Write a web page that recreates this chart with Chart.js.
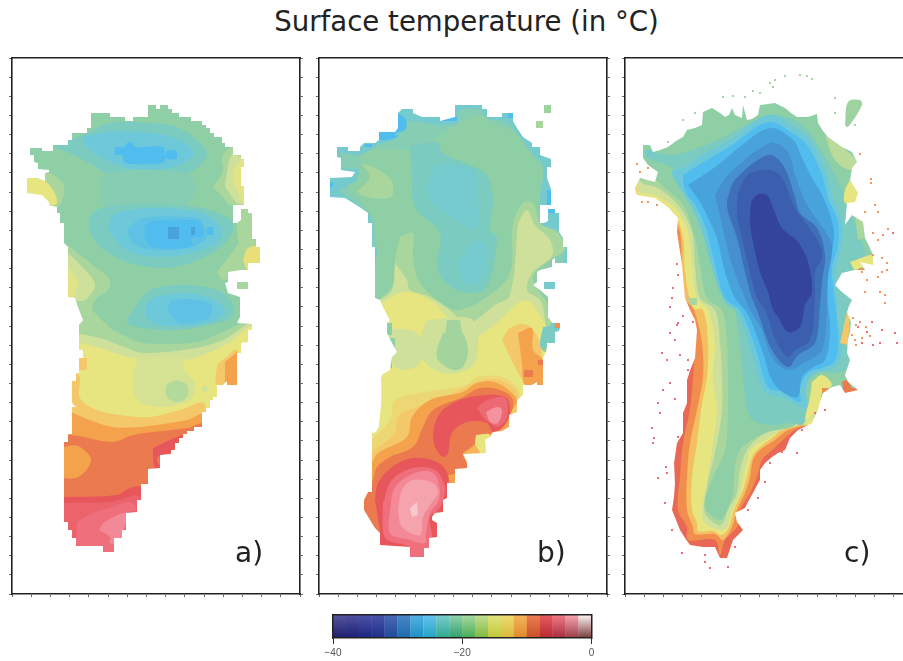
<!DOCTYPE html>
<html>
<head>
<meta charset="utf-8">
<script src="https://cdn.jsdelivr.net/npm/chart.js@4"></script>
<style>
html, body { margin: 0; background: #fff; overflow: hidden; width: 903px; height: 661px; }
canvas { position: absolute; filter: blur(0.45px); }
.txt { position: absolute; font-family: "DejaVu Sans"; color: #222; white-space: nowrap; }
</style>
</head>
<body>
<div class="txt" style="left:0;width:933px;text-align:center;top:5px;font-size:27.6px;">Surface temperature (in °C)</div>
<canvas id="panelA" width="296" height="542" style="left:8px;top:56px"></canvas>
<canvas id="panelB" width="296" height="542" style="left:315px;top:56px"></canvas>
<canvas id="panelC" width="296" height="542" style="left:621px;top:56px"></canvas>
<div class="txt" style="left:235px;top:536px;font-size:28px;">a)</div>
<div class="txt" style="left:537px;top:536px;font-size:28px;">b)</div>
<div class="txt" style="left:844px;top:536px;font-size:28px;">c)</div>
<canvas id="colorbar" width="300" height="56" style="left:313px;top:605px"></canvas>
<script>
const paletteTemps = [-40,-38,-36,-34,-32,-30,-28,-26,-24,-22,-20,-18,-16,-14,-12,-10,-8,-6,-4,-2,0];
const paletteColors = ['#35449b','#35449b','#3c5eae','#3f6fb9','#4790cf','#47a3d9','#51bcee','#6dc8da','#7ccbc0','#8fcfa5','#a9d69c','#cfe09a','#e6e57f','#f4c868','#f5a24c','#ec7a4f','#e6565a','#ef6f7c','#f4929e','#f6b6be','#ffffff'];

// colour bar
const barTemps = [-39,-37,-35,-33,-31,-29,-27,-25,-23,-21,-19,-17,-15,-13,-11,-9,-7,-5,-3,-1];
const barTop = ['#55559f','#50529f','#4d52a5','#4754a8','#4a68b3','#4a86c6','#55b0e4','#66c4ee','#7acdd0','#90d3b0','#a8d8a0','#c4de90','#e2e47c','#eedc72','#f6b45c','#ee7e50','#ea5a60','#f27a88','#f7a5b0','#fff4f4'];
const barBottom = ['#1f1f6e','#1c1f75','#1c2580','#1e2f88','#1f4a9c','#1c6cad','#1c90c4','#22a3c4','#2ea78f','#2fa06c','#46ac52','#7cb83f','#c0c63a','#d8b83a','#dc8a2a','#c8502a','#b52a30','#a52c3c','#9c3c48','#7a3c3c'];
const barTicks = [-40,-20,0];

// map positions are x,y pairs on each panel's axes; bands are [temperature, shape], painted in order
const outlineA = [30,148,42,148,42,151,53,151,53,145,68,145,68,140,72,140,72,133,87,133,87,128,91,128,91,113,110,113,110,117,125,117,125,121,133,121,133,117,148,117,148,105,156,105,156,109,160,109,160,105,168,105,168,109,172,109,172,113,179,113,179,117,191,117,191,121,202,121,202,125,206,125,206,128,210,128,210,133,214,133,214,137,222,137,222,143,225,143,225,147,233,147,233,155,241,155,241,159,244,159,244,167,241,167,241,186,244,186,244,205,233,205,233,223,237,223,241,220,241,209,248,209,248,213,252,213,252,239,256,239,256,247,260,247,260,263,248,263,248,270,241,270,228,272,228,282,225,283,228,293,240,297,240,317,237,323,252,324,252,330,248,330,248,342,241,343,241,353,237,353,237,385,227,385,227,381,223,385,217,385,217,397,213,397,213,400,210,400,210,408,206,408,206,412,202,412,202,427,194,427,194,431,187,431,187,434,183,434,183,438,179,438,179,443,175,443,175,450,171,450,171,454,160,455,160,468,148,469,148,484,141,484,141,500,137,500,137,512,126,513,126,530,122,530,122,538,114,538,114,552,103,552,103,546,76,546,76,538,72,538,72,530,68,530,68,522,64,522,64,442,68,442,68,434,72,434,72,407,76,407,72,403,72,381,76,381,76,373,79,373,79,358,83,358,83,350,79,350,79,335,79,325,83,320,78,307,75,298,68,297,68,247,64,243,64,223,60,223,60,213,57,213,57,207,49,205,49,202,42,195,27,193,27,178,37,178,45,181,45,173,49,172,49,170,38,169,38,163,34,162,34,155,30,155];
const bandsA = [
  [-22,[12,58,300,58,300,345,12,345]],
  [-24,[53,147,87,133,110,123,150,123,177,127,197,140,207,153,197,168,170,178,137,182,110,175,87,162,67,152]],
  [-26,[83,137,110,132,150,133,180,140,193,152,183,163,157,170,127,168,103,158,85,145]],
  [-28,[115,147,125,147,127,143,133,143,135,147,163,147,165,155,167,151,176,151,176,159,165,159,164,163,125,163,122,155,115,155]],
  [-23,[100,190,107,173,187,173,195,190,183,207,107,207]],
  [-24,[88,227,93,212,120,205,167,205,210,210,232,222,232,233,217,250,190,263,160,268,127,262,100,247]],
  [-26,[108,230,113,215,140,209,177,209,207,215,222,230,217,243,190,253,157,257,127,250]],
  [-27,[127,230,143,218,197,218,203,223,207,237,190,247,153,250,133,243]],
  [-28,[145,226,153,221,198,221,203,227,203,237,192,238,192,247,153,247,145,238]],
  [-30,[168,227,179,227,179,239,168,239]],
  [-30,[191,227,195,227,195,235,191,235]],
  [-28,[207,227,213,227,213,235,207,235]],
  [-24,[138,303,150,290,183,285,217,290,232,303,232,317,210,325,177,330,143,328,127,322]],
  [-26,[145,307,153,298,183,293,210,298,225,310,217,320,190,326,160,325,147,318]],
  [-27,[167,310,173,300,210,303,210,317,180,323]],
  [-20,[213,187,223,170,222,157,233,147,244,160,244,205,230,205,223,197]],
  [-18,[225,187,227,172,232,155,243,160,243,203,237,203]],
  [-16.5,[233,183,235,167,244,160,244,205,240,197]],
  [-20,[27,178,45,172,63,183,63,197,58,207,50,205,27,193]],
  [-16,[25,177,43,180,53,190,57,203,49,205,25,195]],
  [-20,[68,245,90,263,110,280,108,290,95,300,93,310,110,330,79,330,78,307,68,297]],
  [-18,[68,253,85,270,95,285,85,300,75,300,68,297]],
  [-16.5,[68,267,78,280,75,297,68,297]],
  [-20,[217,272,232,253,243,240,255,240,260,263,248,270,223,280]],
  [-20,[237,223,241,209,252,213,252,239,240,245]],
  [-15.5,[243,260,248,248,260,247,260,263,248,270]],
  [-20,[70,320,100,324,123,335,143,343,197,342,227,330,255,322,255,594,70,594]],
  [-18,[70,332,100,338,127,348,143,353,197,348,223,340,255,325,255,594,70,594]],
  [-16,[70,340,100,348,133,358,185,360,225,345,255,328,255,594,70,594]],
  [-17.5,[137,357,187,357,183,367,195,383,190,400,160,407,137,400,133,383]],
  [-19.5,[177,380,187,385,187,397,177,402,167,397,167,385]],
  [-18,[205,385,209,389,205,393,201,389]],
  [-14,[79,358,87,358,87,370,79,370]],
  [-14,[217,365,225,358,237,350,237,385,217,385]],
  [-12,[225,362,237,352,237,385,225,385]],
  [-14,[62,375,79,375,80,398,97,410,120,415,150,417,180,410,205,405,205,594,62,594]],
  [-12,[62,408,90,420,113,427,140,427,187,420,205,415,205,594,62,594]],
  [-10,[60,442,68,435,113,442,133,435,187,428,205,425,205,594,60,594]],
  [-12,[60,448,78,446,91,460,78,477,60,475]],
  [-8,[153,448,183,435,178,443,170,453,157,458,160,468,155,468,153,457]],
  [-8,[60,497,117,495,130,488,141,488,141,594,60,594]],
  [-7,[60,503,110,502,140,498,140,594,60,594]],
  [-6,[77,522,95,512,110,508,130,502,137,510,127,513,122,540,114,553,103,553,100,547,77,545,77,530]],
  [-4.5,[99,530,105,522,127,513,123,533,120,543,110,543,110,537]]
];
const islandsA = [
  [-20,[237,282,248,282,248,289,237,289]]
];

const outlineB = [337,147,348,147,348,151,360,151,360,147,364,143,375,143,379,140,379,132,395,132,398,128,398,113,402,109,413,109,413,113,422,117,440,117,440,121,455,117,455,105,482,105,482,109,487,109,487,117,502,117,502,113,513,113,513,121,517,128,523,137,532,143,532,147,540,147,540,155,551,159,551,167,547,167,547,178,551,189,551,205,540,205,540,223,544,223,548,221,548,209,555,209,555,213,559,213,559,232,563,238,563,247,567,247,567,263,555,263,555,258,552,260,552,267,540,270,537,272,537,282,533,285,540,290,548,297,548,317,552,323,560,323,560,328,559,331,555,332,555,343,547,343,547,350,543,358,543,385,537,385,537,382,532,385,523,385,523,395,517,400,517,412,509,415,509,427,502,431,493,432,490,437,485,440,486,453,463,454,467,462,467,468,455,469,455,483,447,483,447,498,443,500,443,512,435,513,432,517,432,520,437,523,437,537,429,538,429,548,424,548,424,557,410,557,410,547,380,545,380,533,375,528,370,520,367,515,364,510,364,500,368,492,372,492,372,432,375,432,379,427,380,407,380,380,383,374,390,370,392,357,397,352,392,343,387,333,387,323,390,320,388,317,383,307,380,300,375,298,375,247,372,247,372,223,368,223,368,213,361,208,353,203,345,198,330,197,330,178,352,177,355,172,341,170,341,158,337,157];
const bandsB = [
  [-25,[319,58,607,58,607,345,319,345]],
  [-23,[340,152,362,155,378,145,398,137,405,122,420,122,440,125,457,123,460,110,480,110,487,118,507,122,515,130,528,148,537,158,543,165,540,190,540,223,544,230,558,230,563,263,550,267,533,277,533,287,547,303,547,330,377,330,377,247,373,247,373,223,367,212,347,197,340,190,357,185,360,170,343,168]],
  [-22,[360,155,378,148,407,150,433,140,460,123,480,115,497,125,515,133,533,157,543,170,540,197,540,223,547,303,377,303,377,247,370,213,357,197,347,187,357,180]],
  [-24,[410,147,437,142,443,153,477,168,488,177,493,200,490,230,497,237,487,287,470,293,448,285,437,267,440,233,415,207,412,173]],
  [-25,[435,165,460,165,475,173,478,197,477,227,463,225,437,207,427,193,430,177]],
  [-25,[470,243,483,242,487,257,483,277,475,285,463,280,457,265,465,253]],
  [-20,[357,192,370,177,363,165,375,168,391,180,391,197,367,197]],
  [-28,[398,113,406,120,405,130,395,133,397,137,380,140,379,132,395,128]],
  [-28,[365,144,372,144,372,147,365,147]],
  [-28,[440,117,457,117,457,121,440,121]],
  [-28,[508,113,513,113,513,118,508,118]],
  [-28,[330,182,333,182,333,187,330,187]],
  [-28,[547,190,551,190,551,205,547,205]],
  [-28,[548,209,555,209,555,213,548,213]],
  [-20,[400,237,413,233,413,257,420,283,447,307,460,310,487,297,510,273,513,223,523,203,533,203,540,223,558,233,565,250,550,260,533,277,540,293,547,303,547,330,377,330,377,303,392,287,395,260]],
  [-18,[518,223,527,210,535,225,550,240,552,256,533,272,527,290,540,300,545,320,545,345,440,345,470,325,495,305,510,295]],
  [-18,[395,263,407,280,410,290,430,297,453,313,463,330,463,345,377,345,377,305,392,290]],
  [-16,[377,305,405,292,430,300,447,317,463,338,480,335,500,320,525,300,540,315,548,335,548,390,525,420,525,594,340,594,340,430,377,430]],
  [-18,[427,320,473,320,477,357,467,370,443,373,423,360,420,340]],
  [-18,[388,328,417,333,420,363,403,370,392,363]],
  [-20.5,[443,333,460,330,468,350,463,367,453,370,438,360,437,350]],
  [-20.5,[447,320,460,320,462,333,445,335]],
  [-22,[387,338,395,338,395,348,387,348]],
  [-22,[388,358,392,358,392,368,388,368]],
  [-22,[387,323,392,323,392,335,387,335]],
  [-14,[502,340,510,328,527,325,540,343,540,377,533,385,523,380,513,363]],
  [-12,[518,333,532,328,533,350,543,360,543,385,525,385,522,363]],
  [-10,[524,370,533,370,533,377,524,377]],
  [-10,[538,360,543,360,543,365,538,365]],
  [-24,[543,327,553,327,553,343,547,347,545,352,540,345]],
  [-15,[372,440,390,420,395,400,420,393,467,385,477,377,505,378,520,395,518,594,350,594,350,440]],
  [-14,[372,452,395,433,398,417,417,407,427,403,460,390,477,382,500,380,518,397,518,594,350,594,350,452]],
  [-12,[372,463,378,453,407,437,412,417,430,400,463,392,477,383,497,383,517,400,510,415,510,594,350,594,350,463]],
  [-10,[364,500,373,480,377,467,390,457,413,447,423,427,433,410,463,397,480,388,500,390,513,400,509,417,493,432,480,440,470,448,463,454,467,468,440,480,447,495,440,515,420,560,364,560]],
  [-16,[476,435,490,435,486,453,477,452,475,445]],
  [-13,[463,454,475,445,480,452,476,455]],
  [-8,[433,437,435,423,445,408,470,397,505,397,510,413,503,427,493,432,487,423,467,422,452,433,448,453,443,457,435,447]],
  [-6.5,[477,408,487,400,505,398,507,417,498,427,490,423,483,417]],
  [-4,[486,412,497,407,502,410,498,423,490,422]],
  [-8,[375,500,378,483,392,467,413,458,437,462,448,475,447,500,443,512,435,513,432,520,437,523,437,540,429,540,429,560,410,560,410,550,380,550,380,533]],
  [-6,[383,503,392,480,413,468,435,470,445,487,443,500,438,510,430,517,432,537,429,557,410,557,410,547,387,540,383,530]],
  [-4.5,[390,510,395,487,415,473,433,473,440,490,438,502,430,513,426,533,425,543,410,540,390,533]],
  [-3,[398,510,402,490,413,480,433,483,438,493,430,505,423,517,420,535,402,527]],
  [-1.5,[410,508,417,502,418,515,412,517]]
];
const islandsB = [
  [-21,[544,105,551,105,551,113,544,113]],
  [-20,[536,121,543,121,543,128,536,128]],
  [-25,[544,282,555,282,555,289,544,289]],
  [-11,[555,323,560,323,560,328,555,328]]
];

const outlineC = [643,145,650,145,653,152,660,150,668,147,676,141,683,137,687,130,695,128,702,125,703,112,712,108,720,113,725,117,729,115,732,108,735,115,742,118,743,105,747,120,752,119,758,115,760,105,768,104,775,103,785,108,791,113,797,117,808,117,817,114,818,123,823,131,828,137,835,142,842,147,852,152,857,162,852,168,850,180,858,193,855,202,847,203,845,225,852,215,863,222,865,238,869,246,873,255,873,265,860,262,865,270,855,270,842,273,835,285,842,292,852,300,849,306,847,312,851,322,850,332,848,340,847,353,850,360,845,375,848,382,858,390,845,393,840,385,832,387,823,393,820,402,818,410,812,423,798,430,790,438,785,450,778,453,772,457,765,463,760,470,760,480,756,487,753,493,749,500,745,508,735,513,737,522,743,530,733,540,730,549,727,558,720,558,715,547,703,547,690,545,685,538,680,530,676,520,672,510,674,497,675,483,674,463,677,443,683,433,683,413,687,403,687,380,691,368,695,358,697,330,695,320,690,310,685,298,682,265,677,232,678,218,668,207,655,198,637,195,635,188,640,178,655,182,658,172,648,165,643,158];
const bandsC = [
  [-9,[625,58,913,58,913,594,625,594]],
  [-11,[630,60,900,60,900,420,810,425,795,430,783,440,772,450,762,460,757,477,750,493,740,510,737,527,725,540,720,555,715,540,688,540,687,527,678,510,680,477,683,443,690,410,693,377,694,343,688,310,680,298,677,265,675,232,665,205,635,198]],
  [-13.5,[630,60,900,60,900,420,810,425,788,430,775,440,760,450,753,460,750,477,745,493,737,510,732,527,723,540,715,534,695,534,693,527,687,510,687,477,690,443,697,410,703,377,702,343,694,310,685,298,682,272,680,232,670,212,655,202,635,197]],
  [-16,[630,60,900,60,900,420,800,425,785,428,772,438,757,450,751,460,747,477,742,493,734,510,729,527,722,535,713,531,698,531,697,523,692,510,692,477,697,443,701,410,707,377,708,343,703,310,693,308,685,272,683,238,673,212,655,203,638,198]],
  [-18,[630,60,900,60,900,400,820,415,800,425,782,430,765,440,750,450,748,460,743,477,740,493,732,510,727,527,720,530,705,523,702,510,708,477,713,443,717,410,713,377,715,343,708,310,697,298,692,265,688,232,675,208,655,195,638,190]],
  [-20,[630,60,900,60,900,400,810,410,790,425,775,428,758,438,747,450,740,470,737,493,728,510,723,523,718,525,705,513,707,487,715,453,722,410,722,377,720,343,715,310,700,298,695,265,692,232,678,205,658,188,640,180]],
  [-22,[630,60,900,60,900,400,815,400,795,425,768,432,752,440,740,450,735,467,733,493,727,510,720,520,705,507,712,480,725,450,728,410,728,377,727,343,722,310,707,298,700,265,695,238,683,205,665,188,652,178,638,178]],
  [-24,[735,310,740,343,743,377,750,417,768,425,792,423,802,425,807,417,810,407,805,387,815,373,838,373,845,370,852,360,848,340,852,298,842,278,865,258,858,232,845,198,835,175,818,145,798,122,772,115,752,122,728,135,705,145,672,155,647,150,648,158,672,168,680,188,702,212,712,238,720,272,727,305]],
  [-26,[683,168,702,155,730,140,768,115,795,128,810,140,825,170,832,195,842,222,842,245,836,268,836,285,838,320,842,350,836,366,820,372,810,378,806,392,806,408,782,397,765,392,752,355,744,327,736,310,725,302,712,268,703,235,693,210,680,188,672,172]],
  [-28,[683,175,702,163,732,145,768,122,792,133,807,145,822,175,828,198,838,222,838,245,832,268,833,285,837,320,838,350,833,363,822,368,808,373,800,388,800,402,782,392,768,387,757,353,748,327,740,310,725,298,715,265,707,232,697,208,685,190]],
  [-30,[688,185,718,165,742,145,770,128,793,140,802,158,812,178,822,195,833,225,833,245,825,272,827,295,828,305,830,330,825,360,812,368,802,377,797,397,775,385,762,350,752,323,745,310,735,298,725,272,717,238,710,222,700,202]],
  [-32,[715,195,728,175,770,143,788,152,795,175,807,205,823,228,832,245,828,278,827,305,822,350,805,362,788,370,772,357,762,330,750,310,745,298,732,265,722,225]],
  [-34,[727,200,735,180,768,155,783,165,795,197,800,213,817,228,825,255,822,282,820,305,815,343,798,355,788,367,772,350,757,310,752,298,745,272,737,238,728,212]],
  [-36,[738,193,748,175,770,170,782,178,795,208,805,222,820,245,822,258,815,272,815,298,810,340,795,350,788,357,777,343,765,310,757,298,750,272,742,238,737,215]],
  [-38,[751,202,757,195,767,195,773,208,782,228,798,242,808,262,812,292,805,305,800,327,788,332,778,317,773,310,768,292,760,272,753,242,750,222]],
  [-19,[825,135,842,147,857,162,850,170,835,160]],
  [-16,[850,180,858,193,855,202,845,203,845,190]],
  [-20,[855,215,863,222,865,238,858,240]],
  [-16,[850,262,873,255,873,265,860,268,855,270]],
  [-11,[860,268,868,270,855,272]],
  [-16,[812,382,822,375,832,385,822,393,820,407,810,417,805,420,810,397]],
  [-11,[822,388,828,388,828,393,822,393]],
  [-14,[840,343,847,312,850,315,848,345]],
  [-10,[842,382,848,380,852,388,858,388,855,393,845,393]],
  [-20,[688,298,697,298,697,305,690,305]],
  [-25,[645,150,652,150,652,156,646,157]]
];
const islandsC = [
  [-21,[845,125,848,102,860,100,862,105,848,127]]
];
// small specks off the coast of panel c
const specksGreen = [770,83,775,80,785,76,800,75,807,76,812,79,773,87,753,91,723,97,733,96,745,97,760,93,695,113,683,120,668,142,835,98,835,113,855,125];
const specksOrange = [860,154,871,179,871,183,865,212,875,205,878,212,873,233,878,240,888,229,883,235,873,255,882,258,887,263,887,270,878,277,867,280,862,272,882,272,865,292,880,292,885,295,885,303,637,164,640,172,648,168,642,202,648,202,657,205,853,318,856,325,860,322,866,327,852,335,855,340,862,338,870,336,856,345];
const specksRed = [893,233,677,264,678,275,673,288,672,298,670,307,683,316,693,322,678,323,677,325,675,340,670,333,662,353,667,360,680,355,688,360,688,370,670,383,663,390,658,403,660,413,675,399,688,387,652,428,654,438,653,443,678,437,666,467,667,473,658,478,665,503,672,530,682,553,705,555,705,562,710,568,728,567,735,547,748,510,758,498,765,482,770,463,782,452,797,453,825,410,815,413,802,430,862,343,873,345,880,343,897,343,895,333,872,322,882,330,858,327,867,332];

function hexToRgb(hex){
    return [1,3,5].map(i => parseInt(hex.substr(i,2),16));
}

function colorAt(t){
    let i = paletteTemps.findIndex(v => v >= t);
    if (i <= 0) return paletteColors[Math.max(i,0)];
    const k = (t - paletteTemps[i-1]) / (paletteTemps[i] - paletteTemps[i-1]);
    const a = hexToRgb(paletteColors[i-1]);
    const b = hexToRgb(paletteColors[i]);
    return 'rgb(' + a.map((c,j) => Math.round(c + (b[j]-c)*k)).join(',') + ')';
}

function toPoints(flat){
    const pts = [];
    for (let i = 0; i < flat.length; i += 2){
        pts.push({x: flat[i], y: flat[i+1]});
    }
    return pts;
}

function shapeDataset(flat, color, tension){
    return {
        type: 'scatter',
        data: toPoints(flat),
        showLine: true,
        fill: 'shape',
        tension: tension,
        borderWidth: 0,
        pointRadius: 0,
        backgroundColor: color,
        borderColor: color
    };
}

// four corner patches stay square, contour shapes get rounded
function bandDataset(b){
    const closed = b[1].concat(b[1].slice(0,2));
    return shapeDataset(closed, colorAt(b[0]), b[1].length > 8 ? 0.35 : 0);
}

// white sheet with the ice sheet outline cut out of it
function maskDataset(outline, x0, x1, y0, y1){
    const sx = outline[0], sy = outline[1];
    const flat = [sx,sy, x0-5,sy, x0-5,y1+5, x1+5,y1+5, x1+5,y0-5, x0-5,y0-5, x0-5,sy].concat(outline, [sx,sy]);
    return shapeDataset(flat, '#ffffff', 0);
}

function speckDataset(flat, color){
    return {
        type: 'scatter',
        data: toPoints(flat),
        pointStyle: 'rect',
        pointRadius: 1.3,
        pointBorderWidth: 0,
        backgroundColor: color,
        borderColor: color
    };
}

function tickList(min, count, step){
    return Array.from({length: count}, (_, i) => ({value: min + i*step}));
}

function createPanel(element_id, x0, bands, outline, islands, specks){
    const y0 = 58, y1 = 594, x1 = x0 + 288;
    const sets = bands.map(bandDataset);
    sets.push(maskDataset(outline, x0, x1, y0, y1));
    islands.forEach(b => sets.push(bandDataset(b)));
    specks.forEach(s => sets.push(s));
    // chart.js paints low order last
    sets.forEach((d,i) => { d.order = sets.length - i; });

    const axisLine = {display: true, color: '#222', width: 1.6, z: 1};
    const tickGrid = {drawOnChartArea: false, drawTicks: true, tickLength: 3, color: '#444', lineWidth: 0.8};
    const noTicks = {drawOnChartArea: false, drawTicks: false};
    new Chart(document.getElementById(element_id), {
        data: {datasets: sets},
        options: {
            responsive: false,
            animation: false,
            events: [],
            layout: {padding: {top: 2}, autoPadding: false},
            plugins: {legend: {display: false}, tooltip: {enabled: false}},
            scales: {
                x: {
                    type: 'linear', position: 'bottom', min: x0, max: x1,
                    ticks: {display: false}, grid: tickGrid, border: axisLine,
                    afterBuildTicks: s => { s.ticks = tickList(x0, 16, 19.2); },
                    afterFit: s => { s.height = 4; }
                },
                y: {
                    type: 'linear', position: 'left', reverse: true, min: y0, max: y1,
                    ticks: {display: false}, grid: tickGrid, border: axisLine,
                    afterBuildTicks: s => { s.ticks = tickList(y0, 29, 536/28); },
                    afterFit: s => { s.width = 4; }
                },
                xTop: {
                    type: 'linear', axis: 'x', position: 'top', min: x0, max: x1,
                    ticks: {display: false}, grid: noTicks, border: axisLine,
                    afterFit: s => { s.height = 0; }
                },
                yRight: {
                    type: 'linear', axis: 'y', position: 'right', reverse: true, min: y0, max: y1,
                    ticks: {display: false}, grid: tickGrid, border: axisLine,
                    afterBuildTicks: s => { s.ticks = tickList(y0, 29, 536/28); },
                    afterFit: s => { s.width = 4; }
                }
            }
        }
    });
}

function createColorbar(){
    const frameLine = {display: true, color: '#222', width: 1.5, z: 1};
    const noTicks = {drawOnChartArea: false, drawTicks: false};
    new Chart(document.getElementById('colorbar'), {
        type: 'bar',
        data: {datasets: [{
            data: barTemps.map(t => ({x: t, y: 1})),
            barPercentage: 1.02,
            categoryPercentage: 1,
            borderWidth: 0,
            backgroundColor: c => {
                const area = c.chart.chartArea;
                if (!area) return barTop[0];
                const g = c.chart.ctx.createLinearGradient(0, area.top, 0, area.bottom);
                g.addColorStop(0, barTop[c.dataIndex]);
                g.addColorStop(1, barBottom[c.dataIndex]);
                return g;
            }
        }]},
        options: {
            responsive: false,
            animation: false,
            events: [],
            layout: {padding: {left: 20, right: 21.5, top: 10}, autoPadding: false},
            plugins: {legend: {display: false}, tooltip: {enabled: false}},
            scales: {
                x: {
                    type: 'linear', min: -40, max: 0, offset: false,
                    grid: {drawOnChartArea: false, offset: false, tickLength: 6, color: '#333'},
                    border: frameLine,
                    ticks: {
                        color: '#555', font: {family: 'Liberation Sans', size: 10}, padding: 3, maxRotation: 0,
                        callback: v => String(v).replace('-', '\u2212')
                    },
                    afterBuildTicks: s => { s.ticks = barTicks.map(v => ({value: v})); },
                    afterFit: s => { s.height = 23; }
                },
                y: {display: false, min: 0, max: 1},
                xTop: {
                    type: 'linear', axis: 'x', position: 'top', min: -40, max: 0,
                    ticks: {display: false}, grid: noTicks, border: frameLine,
                    afterFit: s => { s.height = 0; }
                },
                yLeft: {
                    type: 'linear', axis: 'y', position: 'left', min: 0, max: 1,
                    ticks: {display: false}, grid: noTicks, border: frameLine,
                    afterFit: s => { s.width = 0; }
                },
                yRight: {
                    type: 'linear', axis: 'y', position: 'right', min: 0, max: 1,
                    ticks: {display: false}, grid: noTicks, border: frameLine,
                    afterFit: s => { s.width = 0; }
                }
            }
        }
    });
}

createPanel('panelA', 12, bandsA, outlineA, islandsA, []);
createPanel('panelB', 319, bandsB, outlineB, islandsB, []);
createPanel('panelC', 625, bandsC, outlineC, islandsC, [
    speckDataset(specksGreen, colorAt(-21)),
    speckDataset(specksOrange, colorAt(-11)),
    speckDataset(specksRed, colorAt(-7))
]);
createColorbar();
</script>
</body>
</html>
